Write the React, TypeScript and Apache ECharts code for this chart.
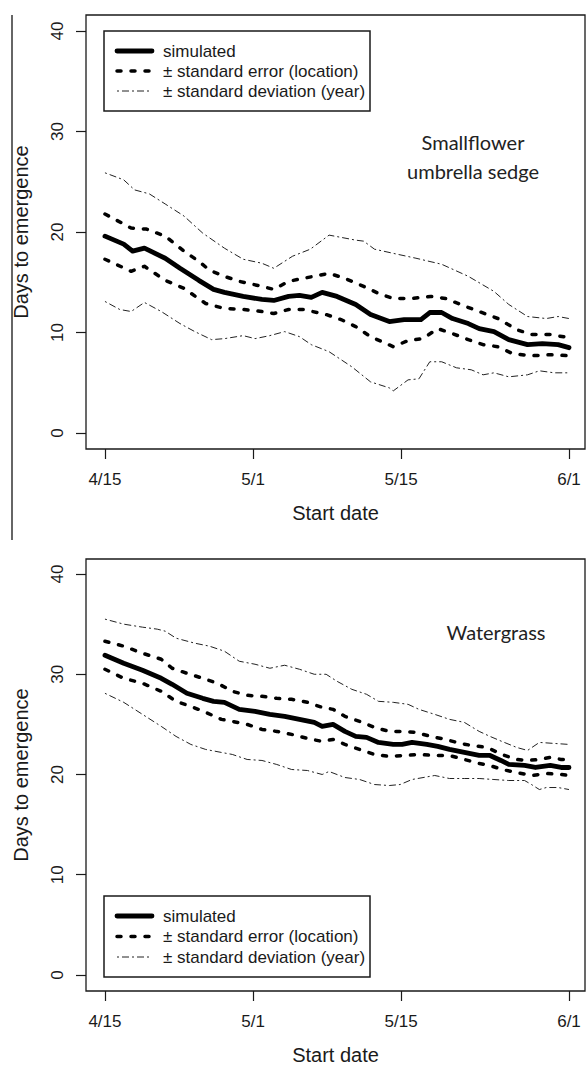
import React, { useEffect, useRef } from "react";
import * as echarts from "echarts";

// x = days after 4/15
const xTickValues = [0, 15, 30, 47];
const xTickLabels = ["4/15", "5/1", "5/15", "6/1"];
const yTickValues = [0, 10, 20, 30, 40];
const legendLabels = ["simulated", "± standard error (location)", "± standard deviation (year)"];
const panelTitles = [["Smallflower", "umbrella sedge"], ["Watergrass"]];

// ---- Top panel: Smallflower umbrella sedge ----
const topSimulated = [[0,19.6],[1.9,18.8],[2.8,18.1],[4.0,18.4],[6.1,17.4],[7.6,16.4],[9.5,15.2],[11.0,14.3],[12.1,14.0],[14.0,13.6],[15.9,13.3],[17.1,13.2],[18.6,13.6],[19.7,13.7],[20.9,13.5],[22.0,14.0],[23.5,13.6],[25.4,12.8],[26.9,11.8],[28.8,11.1],[30.3,11.3],[32.0,11.3],[32.9,12.0],[34.1,12.0],[35.2,11.4],[36.8,10.9],[37.9,10.4],[39.4,10.1],[40.9,9.3],[42.8,8.8],[44.3,8.9],[45.9,8.8],[47,8.5]];
const topSEUpper = [[0,21.8],[2.65,20.4],[4.2,20.3],[6.1,19.6],[8.0,18.1],[9.5,17.1],[10.6,16.2],[12.1,15.6],[13.6,15.1],[15.9,14.6],[17.1,14.3],[18.6,15.1],[20.1,15.4],[22.7,15.9],[24.3,15.4],[26.2,14.6],[27.7,13.9],[29.2,13.4],[31.1,13.4],[33.0,13.6],[34.5,13.4],[36.0,12.8],[37.9,12.1],[39.8,11.4],[41.7,10.3],[43.2,9.8],[45.1,9.8],[47,9.5]];
const topSELower = [[0,17.3],[2.65,16.1],[4.0,16.6],[6.1,15.2],[8.0,14.4],[10.2,12.9],[12.1,12.4],[14.0,12.3],[15.9,12.1],[17.1,11.9],[18.6,12.3],[20.1,12.3],[22.4,11.8],[23.9,11.3],[25.4,10.6],[26.9,9.6],[29.2,8.6],[30.7,9.2],[32.2,9.4],[33.7,10.4],[35.2,9.9],[36.8,9.3],[38.3,8.8],[39.8,8.6],[41.3,7.9],[43.2,7.7],[45.1,7.8],[47,7.7]];
const topSDUpper = [[0,25.9],[1.9,25.2],[3.0,24.2],[4.5,23.8],[6.1,22.8],[8.0,21.6],[9.9,19.9],[12.1,18.4],[14.0,17.3],[15.9,16.9],[17.1,16.4],[19.0,17.6],[20.8,18.3],[22.7,19.7],[25.4,19.2],[26.2,19.1],[27.3,18.3],[29.6,17.8],[31.5,17.4],[34.1,16.8],[36.8,15.6],[39.4,14.1],[40.9,12.8],[42.8,11.6],[44.7,11.4],[45.9,11.6],[47,11.4]];
const topSDLower = [[0,13.1],[1.5,12.3],[2.65,12.1],[4.0,13.0],[5.7,12.1],[7.6,10.9],[9.1,10.1],[10.8,9.3],[12.1,9.4],[14.0,9.7],[15.2,9.4],[16.7,9.7],[18.2,10.1],[19.7,9.6],[20.9,8.8],[22.7,8.1],[25.0,6.6],[26.9,5.1],[28.8,4.5],[29.2,4.2],[30.7,5.3],[31.8,5.4],[32.9,7.1],[34.1,7.1],[35.6,6.5],[37.1,6.3],[38.3,5.8],[39.4,6.0],[40.9,5.6],[42.8,5.8],[44.0,6.2],[45.5,6.0],[47,6.0]];

// ---- Bottom panel: Watergrass ----
const botSimulated = [[0,31.9],[1.9,31.1],[3.8,30.4],[5.7,29.6],[6.8,29.0],[8.3,28.1],[9.9,27.6],[11.0,27.3],[12.1,27.2],[13.6,26.5],[15.2,26.3],[16.7,26.0],[18.2,25.8],[19.7,25.5],[21.2,25.2],[22.0,24.8],[23.1,25.0],[24.3,24.3],[25.4,23.8],[26.5,23.7],[27.7,23.2],[29.2,23.0],[30.1,23.0],[31.1,23.2],[32.6,23.0],[33.7,22.8],[34.9,22.5],[36.4,22.2],[37.9,21.9],[39.0,21.9],[40.1,21.4],[40.9,21.0],[42.5,20.9],[43.6,20.7],[45.1,20.9],[46.2,20.7],[47,20.7]];
const botSEUpper = [[0,33.3],[1.9,32.8],[3.8,32.1],[5.7,31.5],[6.8,30.6],[8.3,30.1],[9.9,29.6],[11.4,29.1],[12.9,28.3],[14.4,27.9],[15.9,27.8],[17.4,27.6],[18.9,27.5],[20.5,27.2],[22.0,26.7],[23.1,26.5],[24.3,25.8],[25.8,25.3],[27.3,24.7],[28.8,24.3],[30.3,24.3],[31.5,24.2],[33.0,23.8],[34.5,23.5],[36.0,23.1],[37.1,22.9],[38.7,22.7],[40.2,22.0],[41.7,21.5],[42.8,21.4],[44.0,21.5],[45.1,21.7],[46.2,21.5],[47,21.5]];
const botSELower = [[0,30.5],[1.9,29.6],[3.8,29.1],[5.7,28.3],[7.2,27.3],[8.7,26.8],[10.2,26.2],[11.8,25.5],[12.9,25.3],[14.4,25.0],[15.9,24.5],[17.4,24.3],[18.9,24.0],[20.5,23.6],[22.0,23.3],[23.1,23.5],[24.3,23.0],[25.8,22.5],[27.3,22.0],[28.8,21.8],[30.3,21.9],[31.8,22.0],[33.4,21.9],[34.9,21.9],[36.4,21.5],[37.9,21.1],[39.0,20.9],[40.2,20.5],[41.7,20.2],[43.2,19.9],[44.7,20.1],[46.2,20.0],[47,19.9]];
const botSDUpper = [[0,35.5],[1.9,35.0],[3.8,34.7],[5.3,34.5],[6.1,34.3],[7.2,33.6],[9.1,33.1],[10.6,32.8],[12.1,32.3],[13.6,31.3],[15.2,31.0],[16.7,30.6],[18.2,30.9],[19.7,30.5],[21.2,30.0],[22.4,30.0],[23.5,29.3],[25.0,28.5],[26.5,28.0],[27.7,27.3],[29.2,27.2],[30.7,27.0],[31.8,26.5],[33.4,26.0],[34.9,25.5],[36.4,25.2],[37.9,24.3],[39.0,23.8],[40.2,23.3],[41.7,22.7],[42.8,22.4],[44.0,23.2],[45.5,23.1],[47,23.0]];
const botSDLower = [[0,28.1],[1.9,27.2],[3.8,26.0],[5.7,24.8],[7.2,23.8],[8.7,23.0],[10.2,22.5],[11.8,22.2],[12.9,22.0],[14.4,21.5],[15.9,21.4],[17.4,21.0],[18.9,20.5],[20.5,20.4],[22.0,20.0],[22.7,20.3],[24.3,19.7],[25.8,19.5],[27.3,19.0],[28.8,18.9],[29.9,19.0],[31.1,19.5],[33.4,19.9],[34.9,19.6],[36.4,19.6],[37.9,19.6],[39.4,19.5],[40.9,19.4],[42.5,19.4],[43.2,19.0],[44.0,18.5],[44.7,18.7],[45.9,18.7],[47,18.5]];

const INK = "#1a1a1a";
const SANS = '"Liberation Sans", Arial, sans-serif';
const TITLE_FONT = 'Lato, "Open Sans", sans-serif';

const SIM_STYLE = { color: "#000", width: 4.8, type: "solid", cap: "round", join: "round" };
const SE_STYLE = { color: "#000", width: 3.5, type: [4, 10], cap: "round", join: "round" };
const SD_STYLE = { color: "#222", width: 1, type: [2, 3, 7, 3], cap: "butt" };

const grids = [
  { left: 86, top: 15, width: 499, height: 434 },
  { left: 86, top: 559, width: 499, height: 434 },
];
const yRanges = [
  { min: -1.58, max: 41.6 },
  { min: -1.6, max: 41.5 },
];

function xAxis(gridIndex: number) {
  return {
    type: "value",
    gridIndex,
    min: -1.92,
    max: 48.62,
    axisLine: { show: false, onZero: false },
    axisTick: { show: true, inside: false, length: 10, customValues: xTickValues, lineStyle: { color: INK, width: 1.2 } },
    axisLabel: {
      customValues: xTickValues,
      formatter: (v: number) => {
        const i = xTickValues.indexOf(Math.round(v));
        return i >= 0 ? xTickLabels[i] : "";
      },
      margin: 22,
      color: INK,
      fontSize: 17,
      fontFamily: SANS,
    },
    splitLine: { show: false },
    name: "Start date",
    nameLocation: "middle",
    nameGap: 54,
    nameTextStyle: { fontSize: 20, fontFamily: SANS, color: INK },
  };
}

function yAxis(gridIndex: number) {
  return {
    type: "value",
    gridIndex,
    min: yRanges[gridIndex].min,
    max: yRanges[gridIndex].max,
    axisLine: { show: false, onZero: false },
    axisTick: { show: true, inside: false, length: 10, customValues: yTickValues, lineStyle: { color: INK, width: 1.2 } },
    axisLabel: {
      customValues: yTickValues,
      rotate: 90,
      margin: 20,
      color: INK,
      fontSize: 17,
      fontFamily: SANS,
    },
    splitLine: { show: false },
    name: "Days to emergence",
    nameLocation: "middle",
    nameRotate: 90,
    nameGap: 55,
    nameTextStyle: { fontSize: 20, fontFamily: SANS, color: INK },
  };
}

function line(name: string, data: number[][], idx: number, style: any) {
  return {
    type: "line",
    name,
    xAxisIndex: idx,
    yAxisIndex: idx,
    data,
    showSymbol: false,
    symbol: "none",
    smooth: false,
    lineStyle: style,
    silent: true,
    z: style === SIM_STYLE ? 5 : 3,
  };
}

function legendGraphic(x: number, y: number, h: number) {
  const styles = [SIM_STYLE, SE_STYLE, SD_STYLE];
  const rowGap = (h - 40) / 2;
  const els: any[] = [
    {
      type: "rect",
      shape: { x, y, width: 266, height: h },
      style: { fill: "#fff", stroke: INK, lineWidth: 1.5 },
      z: 10,
    },
  ];
  styles.forEach((s, i) => {
    const ry = y + 20 + i * rowGap;
    els.push({
      type: "line",
      shape: { x1: x + 13, y1: ry, x2: x + 48, y2: ry },
      style: {
        stroke: s.color,
        lineWidth: s.width,
        lineDash: Array.isArray(s.type) ? s.type : null,
        lineCap: s.cap,
      },
      z: 11,
    });
    els.push({
      type: "text",
      x: x + 59,
      y: ry,
      style: {
        text: legendLabels[i],
        fill: INK,
        fontSize: 17,
        fontFamily: SANS,
        align: "left",
        verticalAlign: "middle",
      },
      z: 11,
    });
  });
  return els;
}

function titleGraphic(lines: string[], cx: number, cy: number) {
  return lines.map((t, i) => ({
    type: "text",
    x: cx,
    y: cy + i * 28.5,
    style: {
      text: t,
      fill: "#222",
      fontSize: 20,
      fontFamily: TITLE_FONT,
      align: "center",
      verticalAlign: "middle",
    },
    z: 11,
  }));
}

export default function App() {
  const ref = useRef<HTMLDivElement>(null);
  useEffect(() => {
    if (!ref.current) return;
    const chart = echarts.init(ref.current, null, { renderer: "svg" });
    const option: any = {
      animation: false,
      backgroundColor: "#fff",
      grid: grids.map((g) => ({ ...g, show: true, borderColor: INK, borderWidth: 1.3, backgroundColor: "transparent" })),
      xAxis: [xAxis(0), xAxis(1)],
      yAxis: [yAxis(0), yAxis(1)],
      series: [
        line("sd-upper", topSDUpper, 0, SD_STYLE),
        line("sd-lower", topSDLower, 0, SD_STYLE),
        line("se-upper", topSEUpper, 0, SE_STYLE),
        line("se-lower", topSELower, 0, SE_STYLE),
        line("simulated", topSimulated, 0, SIM_STYLE),
        line("sd-upper", botSDUpper, 1, SD_STYLE),
        line("sd-lower", botSDLower, 1, SD_STYLE),
        line("se-upper", botSEUpper, 1, SE_STYLE),
        line("se-lower", botSELower, 1, SE_STYLE),
        line("simulated", botSimulated, 1, SIM_STYLE),
      ],
      graphic: [
        {
          type: "line",
          shape: { x1: 12, y1: 15, x2: 12, y2: 540 },
          style: { stroke: "#333", lineWidth: 1.5 },
        },
        ...legendGraphic(104, 31, 80),
        ...legendGraphic(104, 896, 81),
        ...titleGraphic(panelTitles[0], 473, 142),
        ...titleGraphic(panelTitles[1], 496, 632),
      ],
    };
    chart.setOption(option);
    return () => chart.dispose();
  }, []);
  return (
    <div
      ref={ref}
      style={{ position: "absolute", left: 0, top: 0, width: 587, height: 1066, background: "#fff" }}
    />
  );
}
